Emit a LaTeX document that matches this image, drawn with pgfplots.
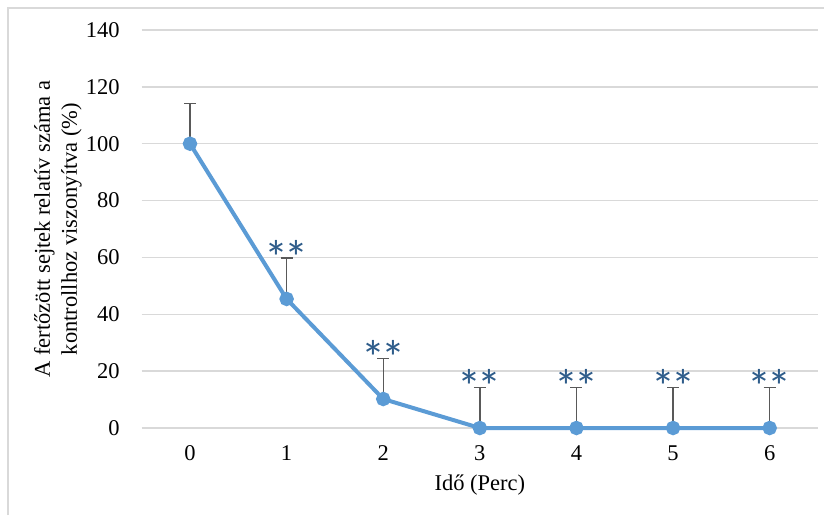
\documentclass[border=0pt]{standalone}
\usepackage{pgfplots}
\pgfplotsset{compat=1.18}
\usepackage{fontspec}
\setmainfont{Liberation Serif}
\newfontfamily\astfont{Carlito}
\definecolor{linecol}{HTML}{5B9BD5}
\definecolor{gridcol}{HTML}{D9D9D9}
\definecolor{errcol}{HTML}{595959}
\definecolor{astcol}{HTML}{2E5C8A}
\begin{document}
\begin{tikzpicture}
\fontsize{11.25}{13.5}\selectfont
\useasboundingbox (-70.85pt,-43.5pt) rectangle (341.15pt,214pt);
\draw[gridcol, line width=0.6pt] (-66.85pt,-43.5pt) -- (-66.85pt,210pt) -- (341.15pt,210pt);
\begin{axis}[
  at={(0,0)}, anchor=south west,
  scale only axis, width=338.15pt, height=199pt,
  xmin=-0.5, xmax=6.5, ymin=0, ymax=140,
  xtick={0,1,2,3,4,5,6}, ytick={0,20,40,60,80,100,120,140},
  axis line style={draw=none}, tick style={draw=none},
  ymajorgrids, grid style={gridcol, line width=0.7pt},
  /pgf/number format/assume math mode=true,
  tick label style={font=\fontsize{11.25}{13.5}\selectfont, black},
  yticklabel style={anchor=east, inner sep=0pt, xshift=-10.85pt},
  xticklabel style={anchor=north, inner sep=0pt, yshift=-8.7pt},
  xlabel={Idő (Perc)},
  xlabel style={at={(axis description cs:0.5,0)}, anchor=center, yshift=-28.5pt, font=\fontsize{11.25}{13.5}\selectfont},
  ylabel={A fertőzött sejtek relatív  száma a\\kontrollhoz viszonyítva (\%)},
  ylabel style={at={(axis description cs:-0.1238,0.5)}, anchor=center, align=center, font=\fontsize{11.25}{13.5}\selectfont},
  clip=false,
]
\addplot[linecol, line width=2pt, mark=*, mark size=2.6pt, mark options={fill=linecol, draw=linecol},
  error bars/.cd, y dir=plus, y explicit,
  error bar style={errcol, line width=0.7pt},
  error mark options={errcol, line width=0.7pt, mark size=3pt, rotate=90}]
  coordinates {
  (0,100) +- (0,14.1)
  (1,45.4) +- (0,14.4)
  (2,10.2) +- (0,14.3)
  (3,0) +- (0,14.2)
  (4,0) +- (0,14.2)
  (5,0) +- (0,14.2)
  (6,0) +- (0,14.2)
  };
\addplot[only marks, mark=*, mark size=0pt, mark options={draw=none, fill=none},
  nodes near coords={\astfont\fontsize{24}{24}\selectfont *\kern-2pt*},
  nodes near coords style={astcol, anchor=base, inner sep=0pt, yshift=-8pt}]
  coordinates {(1,59.8) (2,24.5) (3,14.2) (4,14.2) (5,14.2) (6,14.2)};
\end{axis}
\end{tikzpicture}
\end{document}
